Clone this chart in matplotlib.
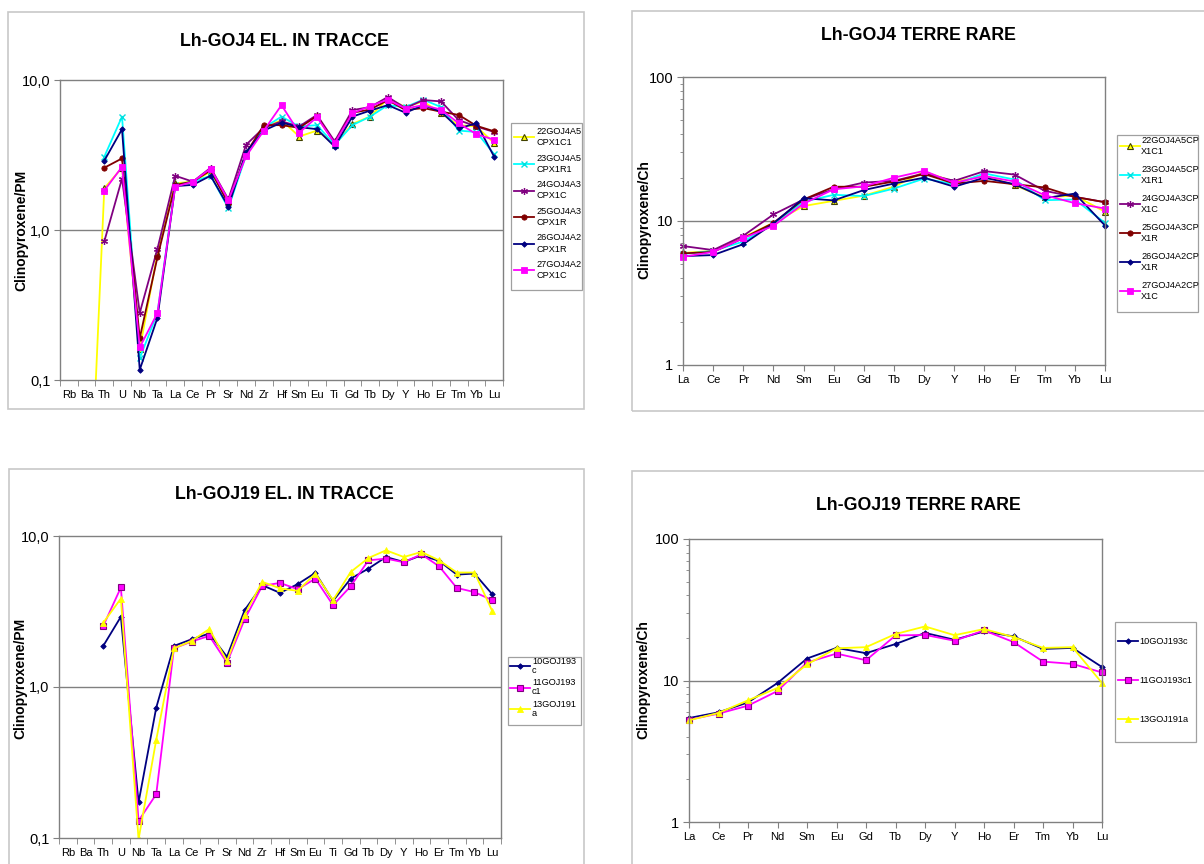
import numpy as np
import matplotlib
matplotlib.use("Agg")
import matplotlib.pyplot as plt
from matplotlib.patches import Rectangle
from matplotlib.lines import Line2D
from matplotlib.ticker import FixedLocator, FixedFormatter, NullFormatter, LogLocator

plt.rcParams['font.family'] = ['Liberation Sans', 'DejaVu Sans']

W, H = 1204, 864
nan = np.nan

# ---- element lists ----
trace_elements = ["Rb", "Ba", "Th", "U", "Nb", "Ta", "La", "Ce", "Pr", "Sr", "Nd", "Zr", "Hf",
                  "Sm", "Eu", "Ti", "Gd", "Tb", "Dy", "Y", "Ho", "Er", "Tm", "Yb", "Lu"]
ree_elements = ["La", "Ce", "Pr", "Nd", "Sm", "Eu", "Gd", "Tb", "Dy", "Y", "Ho", "Er", "Tm", "Yb", "Lu"]

# ---- Lh-GOJ4 trace elements (clinopyroxene / primitive mantle) ----
goj4_trace_22 = [nan, 0.004, 1.90, 2.60, 0.160, 0.70, 2.05, 2.10, 2.45, 1.55, 3.16, 4.80, 5.40,
                 4.20, 4.60, 3.70, 5.10, 5.70, 7.50, 6.60, 7.20, 6.00, 5.00, 4.90, 3.80]
goj4_trace_23 = [nan, nan, 3.08, 5.70, 0.140, 0.28, 2.00, 2.10, 2.30, 1.40, 3.15, 4.80, 5.70,
                 4.90, 5.00, 3.70, 5.00, 5.70, 6.80, 6.60, 7.40, 6.60, 4.60, 4.50, 3.20]
goj4_trace_24 = [nan, nan, 0.84, 2.20, 0.280, 0.75, 2.30, 2.10, 2.60, 1.60, 3.70, 4.80, 5.30,
                 4.90, 5.85, 3.90, 6.30, 6.60, 7.70, 6.50, 7.35, 7.20, 5.40, 4.90, 4.50]
goj4_trace_25 = [nan, nan, 2.60, 3.00, 0.190, 0.66, 2.00, 2.10, 2.50, 1.50, 3.25, 5.00, 5.00,
                 4.80, 5.75, 3.80, 6.05, 6.35, 7.35, 6.30, 6.50, 6.15, 5.85, 4.95, 4.55]
goj4_trace_26 = [nan, nan, 2.90, 4.70, 0.117, 0.26, 1.96, 2.00, 2.30, 1.43, 3.30, 4.60, 5.20,
                 4.85, 4.70, 3.60, 5.70, 6.25, 6.80, 6.05, 6.80, 6.15, 4.75, 5.15, 3.08]
goj4_trace_27 = [nan, nan, 1.83, 2.64, 0.165, 0.28, 1.94, 2.10, 2.57, 1.58, 3.10, 4.60, 6.80,
                 4.45, 5.65, 3.80, 6.00, 6.70, 7.40, 6.45, 6.80, 6.35, 5.15, 4.35, 4.00]

# ---- Lh-GOJ4 rare earths (clinopyroxene / chondrite) ----
goj4_ree_22 = [6.0, 6.2, 7.7, 9.7, 12.7, 13.8, 15.0, 17.3, 22.0, 18.7, 20.7, 17.7, 14.6, 15.0, 11.6]
goj4_ree_23 = [5.9, 6.2, 7.2, 9.6, 13.6, 15.2, 14.9, 16.8, 19.7, 18.0, 21.4, 19.4, 13.95, 14.1, 9.7]
goj4_ree_24 = [6.7, 6.28, 7.9, 11.1, 14.1, 16.6, 18.5, 19.0, 21.4, 19.0, 22.2, 21.0, 16.2, 14.7, 13.5]
goj4_ree_25 = [5.96, 6.1, 7.6, 9.7, 14.1, 17.3, 17.3, 18.8, 21.2, 18.2, 19.0, 18.0, 17.1, 14.7, 13.5]
goj4_ree_26 = [5.7, 5.8, 6.9, 9.6, 14.4, 13.9, 16.4, 18.2, 20.0, 17.3, 20.0, 18.0, 14.4, 15.5, 9.3]
goj4_ree_27 = [5.64, 6.1, 7.6, 9.25, 13.2, 16.6, 17.4, 20.0, 22.3, 18.4, 20.5, 18.8, 15.1, 13.3, 12.2]

# ---- Lh-GOJ19 trace elements ----
goj19_trace_10 = [nan, nan, 1.87, 2.92, 0.172, 0.73, 1.87, 2.07, 2.26, 1.585, 3.23, 4.72, 4.20,
                  4.80, 5.70, 3.72, 5.22, 6.08, 7.26, 6.73, 7.45, 6.84, 5.55, 5.64, 4.12]
goj19_trace_11 = [nan, nan, 2.53, 4.56, 0.130, 0.195, 1.80, 2.00, 2.18, 1.45, 2.81, 4.68, 4.89,
                  4.44, 5.22, 3.48, 4.65, 6.90, 7.08, 6.70, 7.56, 6.30, 4.53, 4.25, 3.76]
goj19_trace_13 = [nan, nan, 2.66, 3.85, 0.098, 0.447, 1.80, 2.02, 2.42, 1.49, 3.02, 4.97, 4.50,
                  4.33, 5.63, 3.76, 5.78, 7.15, 8.04, 7.26, 7.84, 6.90, 5.73, 5.73, 3.19]

# ---- Lh-GOJ19 rare earths ----
goj19_ree_10 = [5.43, 5.96, 7.0, 9.6, 14.3, 17.0, 15.6, 18.1, 21.7, 19.4, 22.2, 20.5, 16.7, 17.0, 12.45]
goj19_ree_11 = [5.28, 5.83, 6.64, 8.43, 13.4, 15.5, 13.9, 20.8, 21.0, 19.1, 22.6, 18.7, 13.6, 13.1, 11.4]
goj19_ree_13 = [5.23, 5.9, 7.24, 8.85, 13.0, 16.9, 17.2, 21.3, 24.1, 20.9, 23.1, 20.3, 17.0, 17.2, 9.6]

# ---- series labels ----
goj4_trace_labels = ["22GOJ4A5\nCPX1C1", "23GOJ4A5\nCPX1R1", "24GOJ4A3\nCPX1C",
                     "25GOJ4A3\nCPX1R", "26GOJ4A2\nCPX1R", "27GOJ4A2\nCPX1C"]
goj4_ree_labels = ["22GOJ4A5CP\nX1C1", "23GOJ4A5CP\nX1R1", "24GOJ4A3CP\nX1C",
                   "25GOJ4A3CP\nX1R", "26GOJ4A2CP\nX1R", "27GOJ4A2CP\nX1C"]
goj19_trace_labels = ["10GOJ193\nc", "11GOJ193\nc1", "13GOJ191\na"]
goj19_ree_labels = ["10GOJ193c", "11GOJ193c1", "13GOJ191a"]

# ---- series styles ----
goj4_styles = [
    dict(color="#FFFF00", marker="^", mfc="#FFFF00", mec="#404000", ms=4.2, mew=0.8),
    dict(color="#00FFFF", marker="x", mfc="none", mec="#00E0E0", ms=5, mew=1.0),
    dict(color="#800080", marker=(6, 2, 0), mfc="none", mec="#800080", ms=5, mew=0.9),
    dict(color="#800000", marker="o", mfc="#800000", mec="#800000", ms=3.8, mew=0.6),
    dict(color="#000080", marker="D", mfc="#000080", mec="#000080", ms=2.8, mew=0.6),
    dict(color="#FF00FF", marker="s", mfc="#FF00FF", mec="#FF00FF", ms=4.0, mew=0.6),
]
goj19_styles = [
    dict(color="#000080", marker="D", mfc="#000080", mec="#000080", ms=2.8, mew=0.6),
    dict(color="#FF00FF", marker="s", mfc="#FF00FF", mec="#800080", ms=4.0, mew=0.8),
    dict(color="#FFFF00", marker="^", mfc="#FFFF00", mec="#FFFF00", ms=5.0, mew=0.6),
]

GRAY = "#808080"


def rect(l, t, r, b):
    return [l / W, 1 - b / H, (r - l) / W, (b - t) / H]


def box(l, t, r, b, color, lw):
    fig.patches.append(Rectangle((l / W, 1 - b / H), (r - l) / W, (b - t) / H,
                                 transform=fig.transFigure, fill=False,
                                 edgecolor=color, lw=lw))


fig = plt.figure(figsize=(W / 100, H / 100), dpi=100)
fig.patch.set_facecolor("white")

# chart area borders
for (l, t, r, b) in [(8, 12, 584, 409), (632, 11, 1215, 411),
                     (9, 469, 584, 880), (632, 471, 1215, 880)]:
    box(l, t, r, b, "#c8c8c8", 1.2)


def style_axes(ax, decades, ylabels, minor):
    for s in ax.spines.values():
        s.set_color(GRAY)
        s.set_linewidth(1.0)
    ax.set_yscale("log")
    ax.set_ylim(decades[0], decades[-1])
    ax.yaxis.set_major_locator(FixedLocator(decades))
    ax.yaxis.set_major_formatter(FixedFormatter(ylabels))
    if minor:
        ax.yaxis.set_minor_locator(LogLocator(base=10, subs=np.arange(2, 10)))
    else:
        ax.yaxis.set_minor_locator(FixedLocator([]))
    ax.yaxis.set_minor_formatter(NullFormatter())
    ax.tick_params(axis="y", which="major", direction="out", length=4, color=GRAY,
                   labelsize=10.5, pad=3)
    ax.tick_params(axis="y", which="minor", direction="out", length=2.5, color=GRAY)
    for d in decades[1:-1]:
        ax.axhline(d, color=GRAY, lw=1.0, zorder=0.5)


def trace_axes(ax, series, styles):
    x = np.arange(len(trace_elements))
    for vals, st in zip(series, styles):
        ax.plot(x, vals, color=st["color"], lw=1.3, marker=st["marker"], ms=st["ms"],
                mfc=st["mfc"], mec=st["mec"], mew=st["mew"], clip_on=True)
    ax.set_xlim(-0.5, len(trace_elements) - 0.5)
    style_axes(ax, [0.1, 1.0, 10.0], ["0,1", "1,0", "10,0"], minor=False)
    ax.xaxis.set_major_locator(FixedLocator(x))
    ax.xaxis.set_major_formatter(FixedFormatter(trace_elements))
    ax.xaxis.set_minor_locator(FixedLocator(np.arange(-0.5, len(trace_elements), 1.0)))
    ax.tick_params(axis="x", which="major", length=0, labelsize=8, pad=7)
    ax.tick_params(axis="x", which="minor", direction="out", length=4, color=GRAY)


def ree_axes(ax, series, styles):
    x = np.arange(len(ree_elements))
    for vals, st in zip(series, styles):
        ax.plot(x, vals, color=st["color"], lw=1.3, marker=st["marker"], ms=st["ms"],
                mfc=st["mfc"], mec=st["mec"], mew=st["mew"], clip_on=False)
    ax.set_xlim(0, len(ree_elements) - 1)
    style_axes(ax, [1, 10, 100], ["1", "10", "100"], minor=True)
    ax.xaxis.set_major_locator(FixedLocator(x))
    ax.xaxis.set_major_formatter(FixedFormatter(ree_elements))
    ax.tick_params(axis="x", which="major", direction="out", length=4, color=GRAY,
                   labelsize=8, pad=3)


def add_legend(labels, styles, frame, x, y, spacing, linespacing, textpad, fs=6.6):
    handles = [Line2D([], [], color=st["color"], lw=1.3, marker=st["marker"], ms=st["ms"],
                      mfc=st["mfc"], mec=st["mec"], mew=st["mew"]) for st in styles]
    leg = fig.legend(handles, labels, loc="upper left", bbox_to_anchor=(x / W, 1 - y / H),
                     fontsize=fs, frameon=False, handlelength=2.2,
                     handletextpad=textpad, labelspacing=spacing,
                     borderpad=0, borderaxespad=0, numpoints=1)
    for t in leg.get_texts():
        t.set_linespacing(linespacing)
    box(*frame, "#a0a0a0", 0.9)
    return leg


title_kw = dict(fontsize=12.8, fontweight="bold", ha="center", va="center")
ylab_kw = dict(fontsize=10, fontweight="bold", rotation=90, ha="center", va="center")

# Lh-GOJ4 trace elements
ax1 = fig.add_axes(rect(60, 80, 503, 380))
trace_axes(ax1, [goj4_trace_22, goj4_trace_23, goj4_trace_24, goj4_trace_25,
                 goj4_trace_26, goj4_trace_27], goj4_styles)
fig.text(284 / W, 1 - 42 / H, "Lh-GOJ4 EL. IN TRACCE", **title_kw)
fig.text(21 / W, 1 - 230 / H, "Clinopyroxene/PM", **ylab_kw)
add_legend(goj4_trace_labels, goj4_styles, (511, 123, 582, 290), 514, 127,
           spacing=0.71, linespacing=1.3, textpad=0.3)

# Lh-GOJ4 rare earths
ax2 = fig.add_axes(rect(683, 77, 1105, 365))
ree_axes(ax2, [goj4_ree_22, goj4_ree_23, goj4_ree_24, goj4_ree_25,
               goj4_ree_26, goj4_ree_27], goj4_styles)
fig.text(918 / W, 1 - 35 / H, "Lh-GOJ4 TERRE RARE", **title_kw)
fig.text(644 / W, 1 - 220 / H, "Clinopyroxene/Ch", **ylab_kw)
add_legend(goj4_ree_labels, goj4_styles, (1117, 135, 1198, 312), 1120, 136,
           spacing=0.96, linespacing=1.3, textpad=0.1)

# Lh-GOJ19 trace elements
ax3 = fig.add_axes(rect(59, 536, 501, 838))
trace_axes(ax3, [goj19_trace_10, goj19_trace_11, goj19_trace_13], goj19_styles)
fig.text(284 / W, 1 - 494 / H, "Lh-GOJ19 EL. IN TRACCE", **title_kw)
fig.text(20 / W, 1 - 678 / H, "Clinopyroxene/PM", **ylab_kw)
add_legend(goj19_trace_labels, goj19_styles, (508, 657, 581, 725), 510, 657,
           spacing=0.37, linespacing=1.0, textpad=0.2)

# Lh-GOJ19 rare earths
ax4 = fig.add_axes(rect(689, 539, 1102, 822))
ree_axes(ax4, [goj19_ree_10, goj19_ree_11, goj19_ree_13], goj19_styles)
fig.text(918 / W, 1 - 506 / H, "Lh-GOJ19 TERRE RARE", **title_kw)
fig.text(643 / W, 1 - 680 / H, "Clinopyroxene/Ch", **ylab_kw)
add_legend(goj19_ree_labels, goj19_styles, (1115, 622, 1196, 742), 1118, 637,
           spacing=3.26, linespacing=1.0, textpad=0.15)

fig.savefig("out.png", dpi=100, facecolor="white")
